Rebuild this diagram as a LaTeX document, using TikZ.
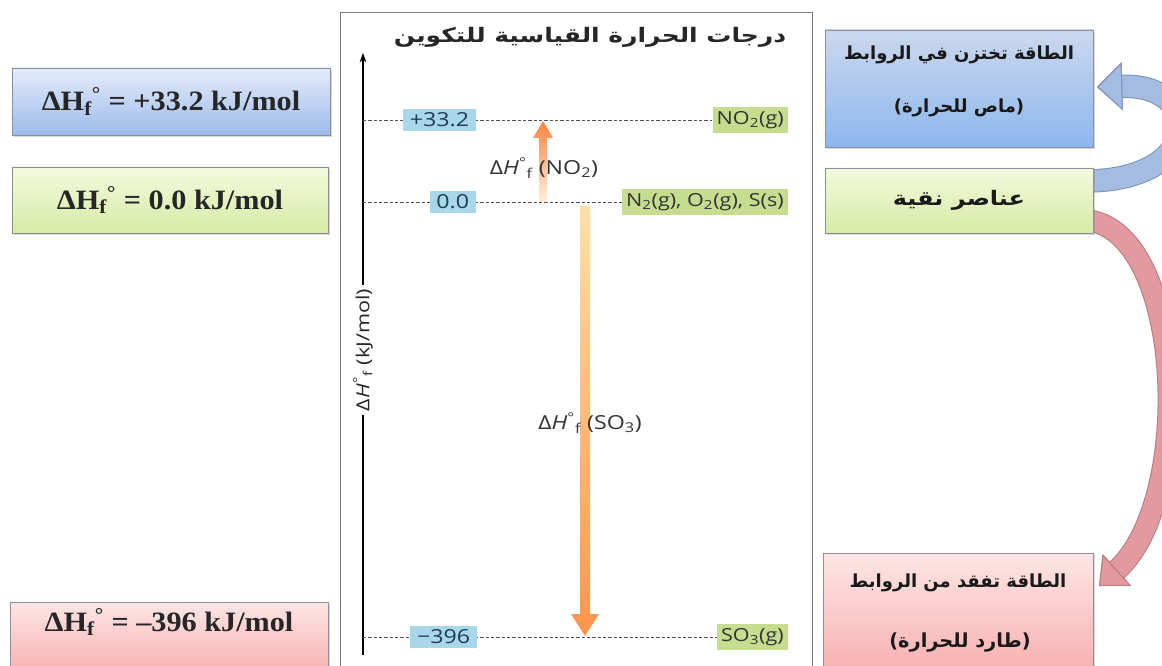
\documentclass[tikz,border=0pt]{standalone}
\usepackage{fontspec}
\setmainfont{Liberation Serif}
\newfontfamily\leftfont[FakeStretch=1.08]{Liberation Serif}
\newfontfamily\arabicfont[Script=Arabic]{DejaVu Sans}
\newfontfamily\arabicwide[Script=Arabic,FakeStretch=1.2]{DejaVu Sans}
\newfontfamily\titlefont[Script=Arabic,FakeStretch=1.25]{DejaVu Sans}
\newfontfamily\labfont[FakeStretch=1.2]{Open Sans}
\TeXXeTstate=1
\usetikzlibrary{arrows.meta,shadows,calc}
\definecolor{lbTop}{HTML}{E4ECFA}\definecolor{lbBot}{HTML}{9DBBEA}
\definecolor{lgTop}{HTML}{F4FADF}\definecolor{lgBot}{HTML}{D6EAA4}
\definecolor{lrTop}{HTML}{FDE6E6}\definecolor{lrBot}{HTML}{F6A3A3}
\definecolor{rbTop}{HTML}{CCD8EE}\definecolor{rbBot}{HTML}{8DB7EE}
\definecolor{edgeGray}{HTML}{8A8F99}
\definecolor{valBlue}{HTML}{A9D7EA}
\definecolor{specGreen}{HTML}{C6DC8E}
\definecolor{panelEdge}{HTML}{7A7A7A}
\definecolor{arrBlue}{HTML}{A5BCE2}\definecolor{arrBlueEdge}{HTML}{7E94B8}
\definecolor{arrRed}{HTML}{E39A9E}\definecolor{arrRedEdge}{HTML}{B97C80}
\definecolor{dashGray}{HTML}{555555}
\definecolor{numText}{HTML}{1E3A55}
\begin{document}
\begin{tikzpicture}[x=0.75pt,y=-0.75pt,
  boxbase/.style={draw=edgeGray, line width=0.6pt, inner sep=0pt,
    drop shadow={shadow xshift=1.5pt,shadow yshift=-1.5pt,opacity=0.3}},
  bluebox/.style={boxbase, top color=lbTop, bottom color=lbBot},
  greenbox/.style={boxbase, top color=lgTop, bottom color=lgBot},
  redbox/.style={boxbase, top color=lrTop, bottom color=lrBot},
  rbluebox/.style={boxbase, top color=rbTop, bottom color=rbBot},
  lefttext/.style={font=\leftfont\fontsize{21}{25}\selectfont\bfseries, text=black!85},
  artext/.style={font=\arabicfont\bfseries\fontsize{13.5}{16}\selectfont, text=black!90},
  valbox/.style={fill=valBlue, font=\labfont\fontsize{14.5}{17}\selectfont, text=numText,
    inner xsep=5pt, inner ysep=3pt, anchor=east},
  specbox/.style={fill=specGreen, font=\labfont\fontsize{13.5}{16}\selectfont, text=black!80,
    inner xsep=3pt, inner ysep=3pt, anchor=east},
  levelline/.style={draw=dashGray, line width=0.6pt, dash pattern=on 2.5pt off 1.5pt},
  eqlabel/.style={font=\labfont\fontsize{14.5}{18}\selectfont, text=black!80},
  fatblue/.style={line width=16pt, draw=arrBlue,
    -{Triangle[width=36pt,length=19pt,line width=0.8pt,fill=arrBlue,color=arrBlueEdge]},
    preaction={draw=arrBlueEdge, line width=17.6pt}},
  fatred/.style={line width=15pt, draw=arrRed,
    -{Triangle[width=32pt,length=18pt,line width=0.8pt,fill=arrRed,color=arrRedEdge]},
    preaction={draw=arrRedEdge, line width=16.6pt}}
]
\useasboundingbox (0,0) rectangle (1162,666);
\fill[white] (0,0) rectangle (1162,666);

% curved block arrows (behind boxes)
\coordinate (bstart) at (1085,181);
\coordinate (bend) at (1097,87);
\coordinate (rstart) at (1085,220);
\coordinate (rend) at (1099,586);
\draw[fatblue] (bstart) .. controls (1205,181) and (1205,84) .. (bend);
\draw[fatred] (rstart) .. controls (1185,228) and (1195,500) .. (rend);

% left boxes
\node[bluebox, minimum width=238.5pt, minimum height=50.25pt, lefttext] (lb1) at (171,101.5)
  {ΔH\textsubscript{f}\textsuperscript{°} = +33.2 kJ/mol};
\node[greenbox, minimum width=237pt, minimum height=49.5pt, lefttext] (lb2) at (170,200)
  {ΔH\textsubscript{f}\textsuperscript{°} = 0.0 kJ/mol};
\node[redbox, minimum width=238.5pt, minimum height=66pt] (lb3) at (169,646) {};
\node[lefttext] (lb3t) at (169,622)
  {ΔH\textsubscript{f}\textsuperscript{°} = –396 kJ/mol};

% right boxes
\node[rbluebox, minimum width=201pt, minimum height=87.75pt] (rb1) at (959,88.5) {};
\node[artext] (rb1a) at (959,55) {\beginR الطاقة تختزن في الروابط\endR};
\node[artext] (rb1b) at (959,108) {\beginR (ماص للحرارة)\endR};
\node[greenbox, minimum width=201pt, minimum height=48.75pt, artext,
  font=\arabicwide\bfseries\fontsize{15}{18}\selectfont] (rb2) at (959,200.5)
  {\beginR عناصر نقية\endR};
\node[redbox, minimum width=202.5pt, minimum height=110.25pt] (rb3) at (958,626.5) {};
\node[artext] (rb3a) at (958,583) {\beginR الطاقة تفقد من الروابط\endR};
\node[artext, font=\arabicfont\bfseries\fontsize{14.5}{17}\selectfont] (rb3b) at (960,643) {\beginR (طارد للحرارة)\endR};

% central panel
\node[draw=panelEdge, line width=0.7pt, minimum width=354pt, minimum height=508.5pt, inner sep=0pt] (panel) at (576,351) {};
\node[font=\titlefont\bfseries\fontsize{15}{18}\selectfont, text=black!85] (title) at (590,37)
  {\beginR درجات الحرارة القياسية للتكوين\endR};

% axis
\coordinate (axbot) at (363,655);
\coordinate (axtop) at (363,53);
\draw[line width=0.8pt, -{Stealth[length=7pt,width=5pt]}] (axbot) -- (axtop);
\node[rotate=90, fill=white, inner xsep=3pt, font=\labfont\fontsize{13.5}{16}\selectfont, text=black!85] (axlabel) at (363,350)
  {Δ\textit{H}\textsuperscript{°}\textsubscript{f} (kJ/mol)};

% levels
\coordinate (ax1) at (363,120);
\coordinate (ax0) at (363,202);
\coordinate (ax2) at (363,637);
\node[specbox] (no2) at (788,120) {NO\textsubscript{2}(g)};
\node[specbox] (elem) at (788,202) {N\textsubscript{2}(g), O\textsubscript{2}(g), S(s)};
\node[specbox] (so3) at (788,637) {SO\textsubscript{3}(g)};
\draw[levelline] (ax1) -- (no2.west);
\draw[levelline] (ax0) -- (elem.west);
\draw[levelline] (ax2) -- (so3.west);
\node[valbox] (v1) at (476,120) {+33.2};
\node[valbox] (v0) at (476,202) {0.0};
\node[valbox] (v2) at (477,637) {−396};

% enthalpy arrows
\coordinate (n0) at (543,202);
\coordinate (n1) at (543,121);
\shade[top color=orange!70!red!75, bottom color=orange!12]
  ($(n0)+(-4,0)$) -- ($(n1)+(-4,17)$) -- ($(n1)+(-10,17)$) -- (n1) --
  ($(n1)+(10,17)$) -- ($(n1)+(4,17)$) -- ($(n0)+(4,0)$) -- cycle;
\coordinate (s0) at (585,206);
\coordinate (s1) at (585,636);
\shade[top color=yellow!30!orange!35, middle color=orange!45!yellow!55, bottom color=orange!80!red!70]
  ($(s0)+(-5,0)$) -- ($(s1)+(-5,-22)$) -- ($(s1)+(-14,-22)$) -- (s1) --
  ($(s1)+(14,-22)$) -- ($(s1)+(5,-22)$) -- ($(s0)+(5,0)$) -- cycle;
\node[eqlabel] (lno2) at (544,168) {Δ\textit{H}\textsuperscript{°}\textsubscript{f} (NO\textsubscript{2})};
\node[eqlabel] (lso3) at (590,423) {Δ\textit{H}\textsuperscript{°}\textsubscript{f} (SO\textsubscript{3})};
\end{tikzpicture}
\end{document}
